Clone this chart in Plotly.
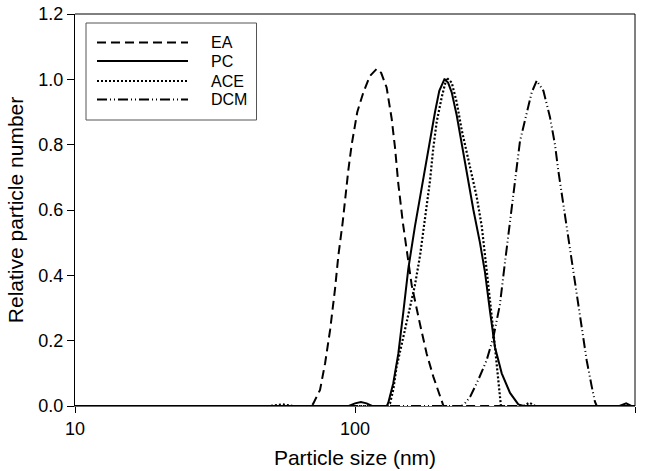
import plotly.graph_objects as go

# ---- data ----
ea_size = [10, 70, 71, 75, 78.2, 81.5, 84.9, 87.2, 90.3, 92, 94.6, 97.3, 101.9, 107.1, 113,
           119.5, 124, 129.7, 135.2, 139, 142.8, 148.3, 155, 159.4, 170.7, 180.3, 190.4,
           201.3, 207, 1000]
ea_val = [0, 0, 0.008, 0.049, 0.131, 0.233, 0.36, 0.46, 0.56, 0.63, 0.72, 0.80, 0.90, 0.96, 1.01,
          1.032, 1.02, 0.975, 0.88, 0.79, 0.68, 0.56, 0.44, 0.37, 0.25, 0.16, 0.09,
          0.03, 0.0, 0]

pc_size = [10, 95, 100, 105, 110, 115, 130, 131.5, 137, 142.8, 148.9, 155, 163.7, 170.7, 177.8,
           185.3, 193.1, 200, 208.5, 215, 221.5, 230.8, 240.5, 250.6, 264.8, 279.4, 291.2,
           303.5, 316.2, 334.2, 357.8, 383, 400, 880, 930, 970, 1000]
pc_val = [0, 0, 0.008, 0.012, 0.008, 0, 0, 0.01, 0.07, 0.16, 0.29, 0.42, 0.55, 0.64, 0.73,
          0.82, 0.90, 0.965, 1.0, 0.99, 0.96, 0.89, 0.80, 0.71, 0.60, 0.50, 0.41,
          0.29, 0.18, 0.10, 0.04, 0.005, 0, 0, 0.008, 0, 0]

ace_size = [10, 50, 55, 60, 130, 133.4, 137, 140.8, 146.9, 155, 163.7, 170.7, 175.2, 180.3, 185.3,
            190.4, 195.8, 204, 212.4, 221.5, 230.8, 240.5, 250.6, 261.2, 272.1, 283.6, 291.2,
            299.3, 311.9, 320.5, 329.2, 332, 400, 420, 440, 1000]
ace_val = [0, 0, 0.005, 0, 0, 0.008, 0.05, 0.12, 0.19, 0.28, 0.37, 0.46, 0.53, 0.60, 0.69,
           0.79, 0.87, 0.945, 1.005, 0.99, 0.93, 0.845, 0.775, 0.71, 0.64, 0.55, 0.47,
           0.37, 0.23, 0.13, 0.04, 0, 0, 0.01, 0, 0]

dcm_size = [10, 240, 247, 257.6, 275.6, 295.2, 311.9, 329.2, 343.3, 357.8, 367.6, 378.2, 388.2,
            404.7, 415.9, 427.7, 445.6, 470.8, 496.8, 517.9, 532.3, 551.6, 570.2, 594.4, 619.6,
            645.6, 672, 700.4, 719.4, 730, 1000]
dcm_val = [0, 0, 0.008, 0.028, 0.08, 0.14, 0.21, 0.31, 0.44, 0.57, 0.65, 0.73, 0.81,
           0.875, 0.92, 0.96, 0.996, 0.965, 0.885, 0.80, 0.72, 0.63, 0.55, 0.45, 0.335,
           0.23, 0.14, 0.06, 0.013, 0, 0]

series_names = ["EA", "PC", "ACE", "DCM"]
x_tickvals = [10, 100, 1000]
x_ticktext = ["10", "100", "1000"]
y_tickvals = [0.0, 0.2, 0.4, 0.6, 0.8, 1.0, 1.2]

# ---- styles ----
dashes = {
    "EA": "9px,5px",
    "PC": "solid",
    "ACE": "2px,2px",
    "DCM": "10px,3px,1px,3px,1px,3px",
}
widths = {"EA": 2, "PC": 2, "ACE": 2.2, "DCM": 2}

W, H = 648, 471
L, R, T, B = 75, 13, 14, 65
PW, PH = W - L - R, H - T - B


def px2paper(x, y):
    return (x - L) / PW, (H - B - y) / PH


fig = go.Figure()
data = {
    "EA": (ea_size, ea_val),
    "PC": (pc_size, pc_val),
    "ACE": (ace_size, ace_val),
    "DCM": (dcm_size, dcm_val),
}
for name in series_names:
    xs, ys = data[name]
    fig.add_trace(go.Scatter(
        x=xs, y=ys, mode="lines", name=name, showlegend=False,
        line=dict(color="black", width=widths[name], dash=dashes[name]),
    ))

shapes = []
annotations = []
# top/right frame
shapes.append(dict(type="line", xref="paper", yref="paper", x0=0, x1=1, y0=1, y1=1,
                   line=dict(color="black", width=1)))
shapes.append(dict(type="line", xref="paper", yref="paper", x0=1, x1=1, y0=0, y1=1,
                   line=dict(color="black", width=1)))

# custom legend box
lx0, ly0 = px2paper(86, 23)
lx1, ly1 = px2paper(256.5, 120)
shapes.append(dict(type="rect", xref="paper", yref="paper", x0=lx0, x1=lx1, y0=ly1, y1=ly0,
                   line=dict(color="#555", width=1), fillcolor="white", layer="above"))
leg_y = [42.5, 61, 81, 99.5]
for name, yy in zip(series_names, leg_y):
    ax0, ay = px2paper(97, yy)
    ax1, _ = px2paper(188, yy)
    shapes.append(dict(type="line", xref="paper", yref="paper", x0=ax0, x1=ax1, y0=ay, y1=ay,
                       line=dict(color="black", width=widths[name], dash=dashes[name]),
                       layer="above"))
    tx, _ = px2paper(209, yy)
    annotations.append(dict(xref="paper", yref="paper", x=tx, y=ay, text=name,
                            showarrow=False, xanchor="left", yanchor="middle",
                            font=dict(size=16, color="black")))

fig.update_layout(
    width=W, height=H,
    margin=dict(l=L, r=R, t=T, b=B, autoexpand=False),
    paper_bgcolor="white", plot_bgcolor="white",
    font=dict(family="Liberation Sans, Arial, sans-serif", color="black", size=18),
    showlegend=False,
    shapes=shapes,
    annotations=annotations,
    xaxis=dict(
        type="log", range=[1, 3],
        tickvals=x_tickvals, ticktext=x_ticktext,
        ticks="outside", ticklen=6, tickcolor="black",
        showline=True, linecolor="#666", linewidth=1,
        showgrid=False, zeroline=False, automargin=False,
        tickfont=dict(size=18),
        title=dict(text="Particle size (nm)", font=dict(size=21), standoff=12),
    ),
    yaxis=dict(
        range=[0, 1.2],
        tickvals=y_tickvals, tickformat=".1f",
        ticks="outside", ticklen=7, tickcolor="black",
        showline=True, linecolor="black", linewidth=1,
        showgrid=False, zeroline=False, automargin=False,
        tickfont=dict(size=18),
        title=dict(text="Relative particle number", font=dict(size=21), standoff=9),
    ),
)

fig.write_html("out.html", config={"displayModeBar": False},
               post_script="document.body.style.margin='0';document.body.style.overflow='hidden';")
